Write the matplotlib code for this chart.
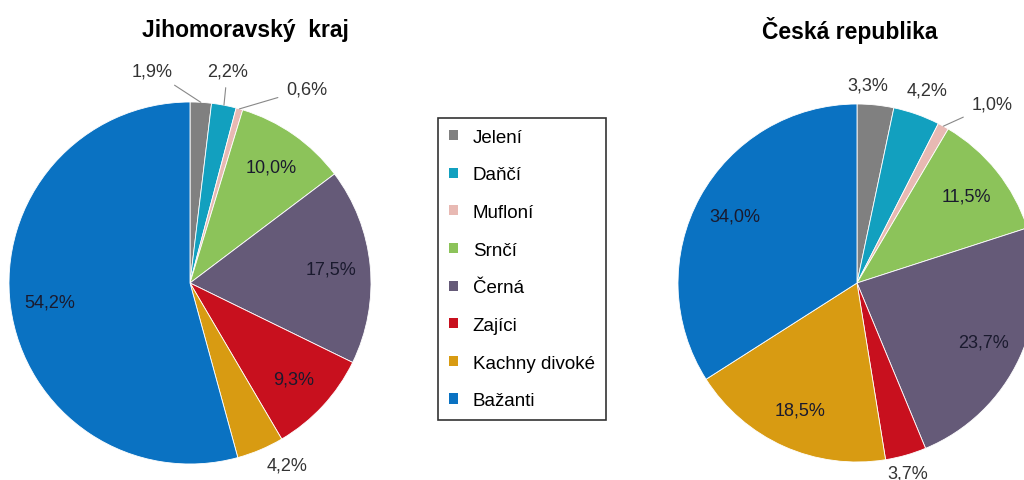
import numpy as np
import matplotlib.pyplot as plt
from matplotlib.patches import Patch

plt.rcParams['font.family'] = ['Liberation Sans', 'DejaVu Sans']

# data
categories = ["Jelení", "Daňčí", "Mufloní", "Srnčí", "Černá", "Zajíci", "Kachny divoké", "Bažanti"]
jmk_values = [1.9, 2.2, 0.6, 10.0, 17.5, 9.3, 4.2, 54.2]
cr_values = [3.3, 4.2, 1.0, 11.5, 23.7, 3.7, 18.5, 34.0]
titles = ["Jihomoravský  kraj", "Česká republika"]

colors = ["#808080", "#12a0bf", "#e8b9b3", "#8cc35a", "#655a78",
          "#c8101e", "#d89b12", "#0a72c2"]

# label placement outside the pie: index -> (angle, radius, leader line)
jmk_outside = {0: (100, 1.19, True), 1: (80, 1.19, True), 2: (59, 1.25, True), 6: (-62, 1.14, False)}
cr_outside = {0: (87, 1.11, False), 1: (70, 1.15, False), 2: (53, 1.25, True), 5: (-75, 1.1, False)}


def fmt(v):
    return f"{v:.1f}%".replace(".", ",")


def draw_pie(ax, values, outside):
    wedges, _ = ax.pie(values, colors=colors, startangle=90, counterclock=False,
                       radius=1.0, wedgeprops=dict(linewidth=0.6, edgecolor="white"))
    for i, w in enumerate(wedges):
        mid = np.deg2rad((w.theta1 + w.theta2) / 2)
        if i in outside:
            ang, r, leader = outside[i]
            a = np.deg2rad(ang)
            tx, ty = r * np.cos(a), r * np.sin(a)
            if leader:
                ax.annotate(fmt(values[i]), xy=(np.cos(mid), np.sin(mid)), xytext=(tx, ty),
                            ha="center", va="center", fontsize=13, color="#333333",
                            arrowprops=dict(arrowstyle="-", color="#888888", lw=0.8,
                                            shrinkA=4, shrinkB=0))
            else:
                ax.text(tx, ty, fmt(values[i]), ha="center", va="center",
                        fontsize=13, color="#333333")
        else:
            r = 0.78
            ax.text(r * np.cos(mid), r * np.sin(mid), fmt(values[i]), ha="center",
                    va="center", fontsize=13, color="#1a1a2e")
    ax.set_xlim(-1, 1)
    ax.set_ylim(-1, 1)
    ax.set_aspect("equal")
    ax.axis("off")


fig = plt.figure(figsize=(10.24, 4.81), dpi=100)
W, H = 1024, 481

ax1 = fig.add_axes([9 / W, 16 / H, 362 / W, 362 / H])
draw_pie(ax1, jmk_values, jmk_outside)
ax2 = fig.add_axes([678 / W, 18 / H, 358 / W, 358 / H])
draw_pie(ax2, cr_values, cr_outside)

fig.text(245 / W, 1 - 30 / H, titles[0], ha="center", va="center", fontsize=16.5, fontweight="bold")
fig.text(850 / W, 1 - 30 / H, titles[1], ha="center", va="center", fontsize=16.5, fontweight="bold")

handles = [Patch(facecolor=c, edgecolor="none") for c in colors]
leg = fig.legend(handles, categories, loc="center", bbox_to_anchor=(522 / W, 1 - 270 / H),
                 frameon=True, fancybox=False, fontsize=13.5, labelspacing=1.1,
                 handlelength=0.45, handleheight=0.45, handletextpad=0.8, borderpad=0.6,
                 borderaxespad=0)
leg.get_frame().set_edgecolor("black")
leg.get_frame().set_linewidth(1.2)

fig.savefig("out.png", dpi=100)
